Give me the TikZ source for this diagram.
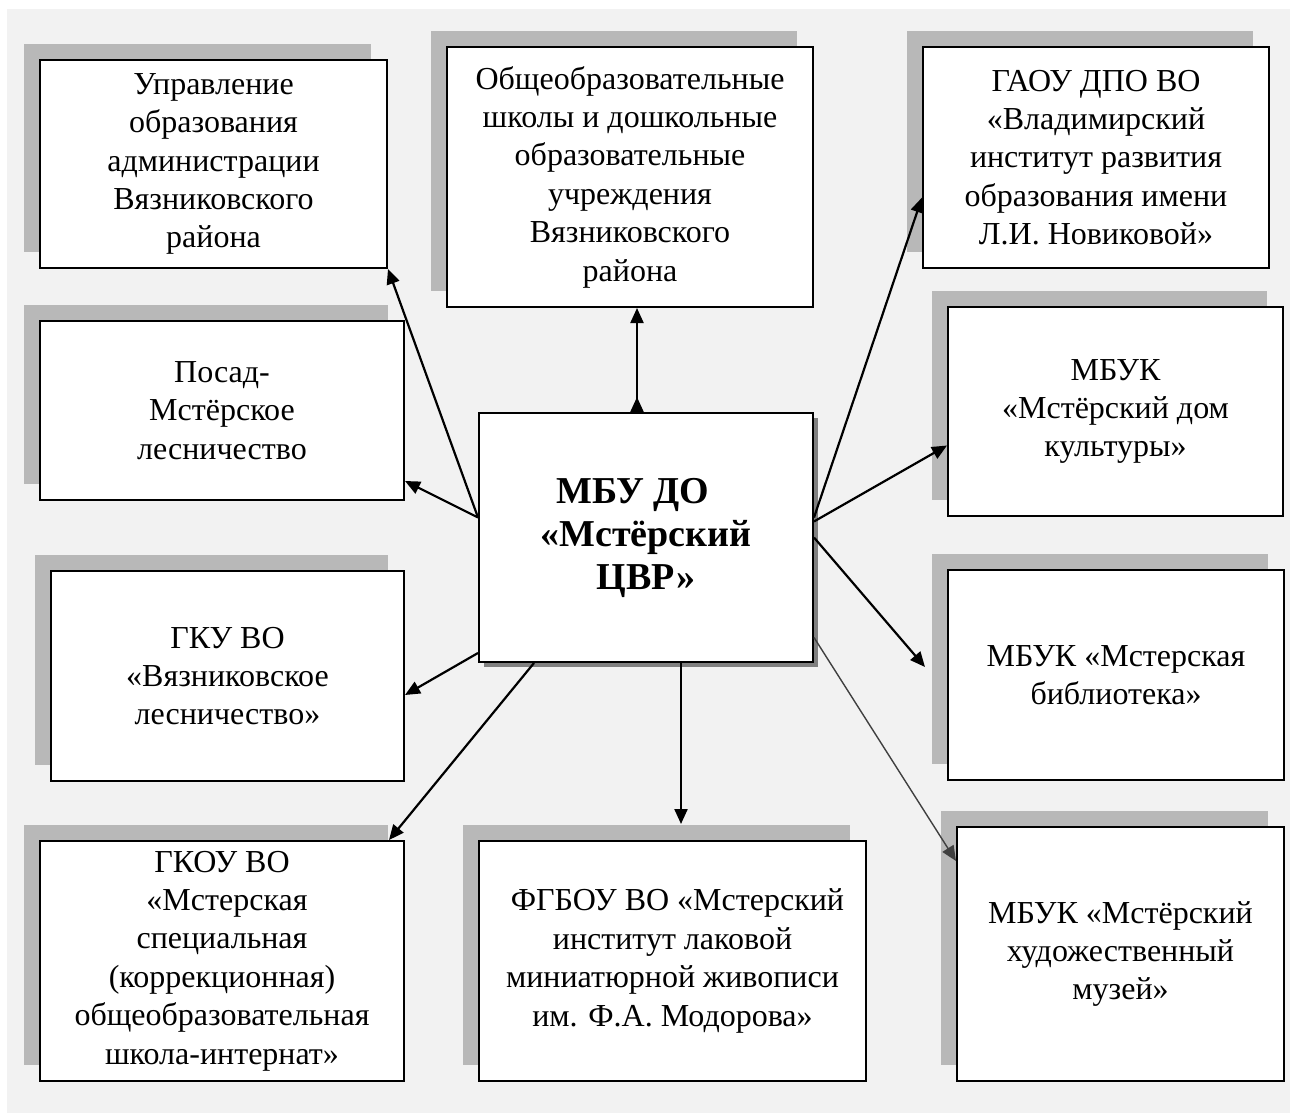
\documentclass[tikz,border=0pt]{standalone}
\usepackage{fontspec}
\setmainfont{Liberation Serif}
\usetikzlibrary{arrows.meta,shadows}

\definecolor{pagegray}{HTML}{F2F2F2}
\definecolor{shadegray}{HTML}{B8B8B8}
\definecolor{hubshade}{HTML}{808080}
\def\orgfont{\fontsize{16}{19.2}\selectfont}
\def\hubfont{\fontsize{19}{21.5}\selectfont\bfseries}

\tikzset{
  org/.style={draw, line width=1pt, fill=white, align=center, inner sep=0pt, font=\orgfont,
    drop shadow={shadow xshift=-8pt, shadow yshift=8pt, fill=shadegray, opacity=1}},
  hub/.style={draw, line width=1pt, fill=white, align=center, inner sep=0pt, font=\hubfont,
    drop shadow={shadow xshift=2.5pt, shadow yshift=-2.5pt, fill=hubshade, opacity=1}},
  link/.style={line width=1.1pt, -{Triangle[length=7.5pt,width=6.5pt]}}
}

\begin{document}
\begin{tikzpicture}[x=0.5pt, y=-0.5pt]
\useasboundingbox (0,0) rectangle (1290,1113);
\fill[pagegray] (7,9) rectangle (1290,1113);

\node[org, minimum width=173.5pt, minimum height=104pt] (upr) at (213.5,164)
  {Управление\\образования\\администрации\\Вязниковского\\района};
\node[org, minimum width=183pt, minimum height=130pt] (obs) at (630,177)
  {Общеобразовательные\\школы и дошкольные\\образовательные\\учреждения\\Вязниковского\\района};
\node[org, minimum width=173pt, minimum height=110.5pt] (gaou) at (1096,157.5)
  {ГАОУ ДПО ВО\\«Владимирский\\институт развития\\образования имени\\Л.И. Новиковой»};
\node[org, minimum width=182pt, minimum height=89.5pt] (les) at (222,410.5)
  {Посад-\\Мстёрское\\лесничество};
\node[org, minimum width=167.5pt, minimum height=104.5pt] (dk) at (1115.5,411.5)
  {МБУК\\«Мстёрский дом\\культуры»};
\node[hub, minimum width=167pt, minimum height=124.5pt] (cvr) at (646,537.5)
  {МБУ ДО\hspace*{13pt}\\«Мстёрский\\ЦВР»};
\node[org, minimum width=176.5pt, minimum height=105pt] (gku) at (227.5,676)
  {ГКУ ВО\\«Вязниковское\\лесничество»};
\node[org, minimum width=168pt, minimum height=105pt] (bib) at (1116,675)
  {МБУК «Мстерская\\библиотека»};
\node[org, minimum width=182pt, minimum height=120pt] (gkou) at (222,961)
  {ГКОУ ВО\\\hspace*{5pt}«Мстерская\\специальная\\(коррекционная)\\общеобразовательная\\школа-интернат»};
\node[org, minimum width=193.5pt, minimum height=120pt] (fgbou) at (672.5,961)
  {\hspace*{5pt}ФГБОУ ВО «Мстерский\\институт лаковой\\миниатюрной живописи\\им. Ф.А. Модорова»};
\node[org, minimum width=163.5pt, minimum height=127pt] (muz) at (1120.5,954)
  {МБУК «Мстёрский\\художественный\\музей»};

\coordinate (cvrn) at ([xshift=-4.5pt]cvr.north);
\coordinate (cvrs) at ([xshift=17.5pt]cvr.south);

\begin{scope}[link]
  \draw ([yshift=10pt]cvr.west) -- (upr.south east);
  \draw ([yshift=10pt]cvr.west) -- ([yshift=10pt]les.south east);
  \draw ([yshift=5pt]cvr.south west) -- ([yshift=-9.5pt]gku.east);
  \draw ([xshift=28pt]cvr.south west) -- ([xshift=-8pt]gkou.north east);
  \draw[shorten >=8pt] (cvrs) -- (cvrs |- fgbou.north);
  \draw[{Triangle[reversed,length=7.5pt,width=6.5pt]}-{Triangle[length=7.5pt,width=6.5pt]}] (cvrn) -- (cvrn |- obs.south);
  \draw ([yshift=10pt]cvr.east) -- ([yshift=-20pt]gaou.west);
  \draw ([yshift=8pt]cvr.east) -- ([yshift=-17pt]dk.west);
  \draw (cvr.east) -- ([xshift=-11pt,yshift=4pt]bib.west);
  \draw[line width=0.7pt, black!75] ([yshift=-50pt]cvr.east) -- ([yshift=-17.5pt]muz.north west);
\end{scope}
\end{tikzpicture}
\end{document}
